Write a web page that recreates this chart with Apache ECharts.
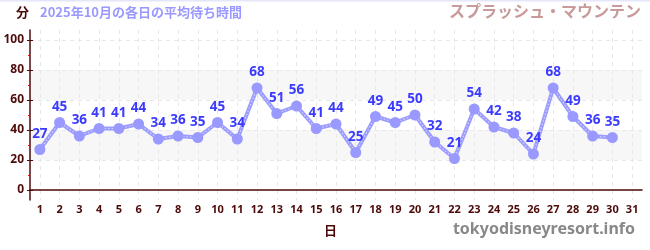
<!DOCTYPE html>
<html>
<head>
<meta charset="utf-8">
<script src="https://cdn.jsdelivr.net/npm/echarts@6/dist/echarts.min.js"></script>
<style>
html,body{margin:0;padding:0;background:#fff;}
#c{width:650px;height:250px;}
</style>
</head>
<body>
<div id="c"></div>
<script>
const days = ['1','2','3','4','5','6','7','8','9','10','11','12','13','14','15','16','17','18','19','20','21','22','23','24','25','26','27','28','29','30','31'];
const waitTimes = [27,45,36,41,41,44,34,36,35,45,34,68,51,56,41,44,25,49,45,50,32,21,54,42,38,24,68,49,36,35,null];
const yTicks = [0,20,40,60,80,100];
const yMinorTicks = [10,30,50,70,90];
const titleUnit = '分';
const titleText = '2025年10月の各日の平均待ち時間';
const attraction = 'スプラッシュ・マウンテン';
const xName = '日';
const site = 'tokyodisneyresort.info';

const brown = '#4d0a0a';
const font = '"Noto Sans CJK JP", "Noto Sans", sans-serif';
const yMin = -20/3, yMax = 320/3;

const chart = echarts.init(document.getElementById('c'), null, {renderer:'canvas'});
chart.setOption({
  animation:false,
  textStyle:{fontFamily:font},
  grid:{left:30, right:8, top:30, bottom:50},
  graphic:[
    {type:'rect', shape:{x:0,y:0,width:650,height:1.5}, style:{fill:'#e6e6fa'}},
    {type:'text', left:16, top:6, style:{text:titleUnit, fill:brown, font:'bold 13px '+font}},
    {type:'text', left:40, top:6, style:{text:titleText, fill:'#9999ff', font:'bold 13px '+font}},
    {type:'text', right:9, top:3, style:{text:attraction, fill:'#c99a9a', font:'bold 16px '+font}},
    {type:'text', left:324, top:224, style:{text:xName, fill:brown, font:'bold 13px '+font}},
    {type:'text', right:15, top:221, style:{text:site, fill:'#888888', font:'bold 16px "Noto Sans", sans-serif'}}
  ],
  xAxis:{
    type:'category', data:days, boundaryGap:true,
    axisLine:{lineStyle:{color:brown, width:1.5}},
    axisTick:{alignWithLabel:true, inside:true, length:3, lineStyle:{color:brown}},
    axisLabel:{color:brown, fontWeight:'bold', fontSize:11, margin:4, interval:0, fontFamily:'"Noto Sans", sans-serif'},
    splitLine:{show:true, alignWithLabel:true, lineStyle:{color:'#e8e8e8', type:[4,4]}}
  },
  yAxis:[
    {
      type:'value', min:yMin, max:yMax,
      axisLine:{show:true, lineStyle:{color:brown, width:1.5}},
      axisTick:{show:true, length:3, customValues:yTicks, lineStyle:{color:brown}},
      axisLabel:{color:brown, fontWeight:'bold', fontSize:12, margin:6, customValues:yTicks, fontFamily:'"Noto Sans", sans-serif'},
      splitLine:{show:true, lineStyle:{color:'#e8e8e8', type:[4,4]}},
      splitArea:{show:true, areaStyle:{color:['rgba(0,0,0,0)','#f7f7f7']}}
    },
    {
      type:'value', min:yMin, max:yMax, position:'left',
      axisLine:{show:false},
      axisTick:{show:true, length:2, customValues:yMinorTicks, lineStyle:{color:'#ff0000'}},
      axisLabel:{show:false},
      splitLine:{show:false}
    },
    {
      type:'value', min:yMin, max:yMax, position:'left',
      axisLine:{show:false},
      axisTick:{show:true, inside:true, length:3, customValues:yTicks, lineStyle:{color:brown}},
      axisLabel:{show:false},
      splitLine:{show:false}
    }
  ],
  series:[
    {
      type:'line', data:waitTimes, yAxisIndex:0, symbol:'none',
      lineStyle:{color:'#9c9cff', width:4}, z:2
    },
    {
      type:'line', data:waitTimes, yAxisIndex:0, symbol:'none',
      lineStyle:{color:'rgba(255,255,255,0.55)', width:1.2, type:[1.5,2]}, z:3
    },
    {
      type:'line', data:waitTimes, yAxisIndex:0, symbol:'circle', symbolSize:11,
      itemStyle:{color:'#9999ff'},
      lineStyle:{width:0, opacity:0}, z:4,
      label:{show:true, position:'top', distance:3, color:'#3b3bff', fontWeight:'bold', fontSize:13.5, fontFamily:'"Noto Sans", sans-serif'}
    }
  ]
});
</script>
</body>
</html>
